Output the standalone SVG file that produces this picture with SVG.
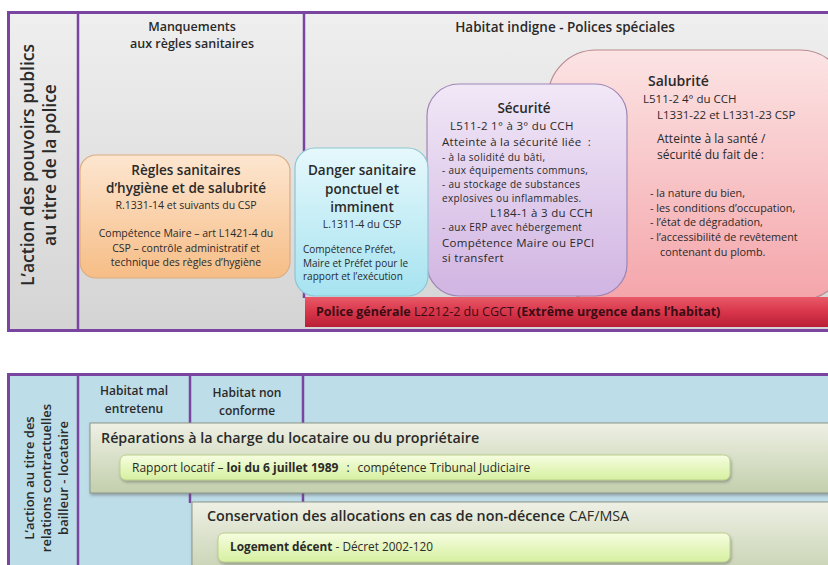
<svg xmlns="http://www.w3.org/2000/svg" width="828" height="565" viewBox="0 0 828 565">
  <defs>
    <linearGradient id="gGray" x1="0" y1="0" x2="0" y2="1">
      <stop offset="0" stop-color="#efefef"/>
      <stop offset="1" stop-color="#d4d4d4"/>
    </linearGradient>
    <linearGradient id="gOrange" x1="0" y1="0" x2="0" y2="1">
      <stop offset="0" stop-color="#fde6d0"/>
      <stop offset="1" stop-color="#f6bd86"/>
    </linearGradient>
    <linearGradient id="gCyan" x1="0" y1="0" x2="0" y2="1">
      <stop offset="0" stop-color="#e6f8fc"/>
      <stop offset="1" stop-color="#a6e3f0"/>
    </linearGradient>
    <linearGradient id="gPurple" x1="0" y1="0" x2="0" y2="1">
      <stop offset="0" stop-color="#f1e8f7"/>
      <stop offset="1" stop-color="#d1b4e2"/>
    </linearGradient>
    <linearGradient id="gPink" x1="0" y1="0" x2="0" y2="1">
      <stop offset="0" stop-color="#fce4e4"/>
      <stop offset="1" stop-color="#f4a5aa"/>
    </linearGradient>
    <linearGradient id="gRed" x1="0" y1="0" x2="0" y2="1">
      <stop offset="0" stop-color="#e85a68"/>
      <stop offset="0.5" stop-color="#d8354a"/>
      <stop offset="1" stop-color="#b82036"/>
    </linearGradient>
    <linearGradient id="gOlive" x1="0" y1="0" x2="0" y2="1">
      <stop offset="0" stop-color="#eef0e4"/>
      <stop offset="1" stop-color="#c3cfad"/>
    </linearGradient>
    <linearGradient id="gLime" x1="0" y1="0" x2="0" y2="1">
      <stop offset="0" stop-color="#f6fde0"/>
      <stop offset="1" stop-color="#d6f0a0"/>
    </linearGradient>
    <filter id="shadow" x="-5%" y="-20%" width="110%" height="150%">
      <feDropShadow dx="1" dy="2" stdDeviation="1.5" flood-color="#555" flood-opacity="0.45"/>
    </filter>
  </defs>
  <style>
    text { font-family: "Open Sans", "Noto Sans", "DejaVu Sans", sans-serif; fill: #2a2a2a; }
    .h { font-weight: 600; }
    .b { font-weight: 700; }
    .c { text-anchor: middle; }
    .w { letter-spacing: 0.3px; }
    .frame { stroke: #7a45a0; stroke-width: 3; }
    .div { stroke: #7a45a0; stroke-width: 2.5; fill: none; }
  </style>

  <!-- Upper panel: public police powers -->
  <g id="police-panel">
    <rect class="frame" x="8.5" y="12.5" width="830" height="318" fill="url(#gGray)"/>
    <line class="div" x1="78" y1="12" x2="78" y2="330"/>
    <line class="div" x1="304" y1="12" x2="304" y2="298"/>
    <text class="h c" font-size="17.5" transform="translate(34,165) rotate(-90)">L’action des pouvoirs publics</text>
    <text class="h c" font-size="17.5" transform="translate(56,165) rotate(-90)">au titre de la police</text>
    <text class="h c" font-size="12.5" x="192" y="31">Manquements</text>
    <text class="h c" font-size="12.5" x="192" y="48">aux règles sanitaires</text>
    <text class="h c" font-size="13.5" x="565" y="32">Habitat indigne - Polices spéciales</text>
  </g>

  <g id="salubrite">
    <rect x="548" y="50" width="300" height="250" rx="48" fill="url(#gPink)" stroke="#b88a8e" stroke-width="1.2"/>
    <text class="h" font-size="14" x="648" y="86">Salubrité</text>
    <text font-size="11.5" x="643" y="103">L511-2 4° du CCH</text>
    <text font-size="11.5" x="657" y="119">L1331-22 et L1331-23 CSP</text>
    <text font-size="12" x="657" y="143">Atteinte à la santé /</text>
    <text font-size="12" x="657" y="159">sécurité du fait de  :</text>
    <text font-size="10.8" x="650" y="197">-  la nature du bien,</text>
    <text font-size="10.8" x="650" y="211.5">-  les conditions d’occupation,</text>
    <text font-size="10.8" x="650" y="226">- l’état de dégradation,</text>
    <text font-size="10.8" x="650" y="241">- l’accessibilité de revêtement</text>
    <text font-size="10.8" x="660" y="256">contenant du plomb.</text>
  </g>

  <g id="securite">
    <rect x="427" y="84" width="200" height="212" rx="32" fill="url(#gPurple)" stroke="#9f86b5" stroke-width="1.2"/>
    <text class="h c" font-size="13.5" x="524" y="113">Sécurité</text>
    <text class="w" font-size="11.5" x="450" y="130">L511-2 1° à 3° du CCH</text>
    <text class="w" font-size="11.5" x="442" y="146">Atteinte à la sécurité liée <tspan dx="3">:</tspan></text>
    <text class="w" font-size="10" x="442" y="160.5">- à la solidité du bâti,</text>
    <text class="w" font-size="10" x="442" y="174.3">- aux équipements communs,</text>
    <text class="w" font-size="10" x="442" y="188">- au stockage de substances</text>
    <text class="w" font-size="10" x="442" y="201.8">explosives ou inflammables.</text>
    <text class="w" font-size="11.5" x="490" y="217.2">L184-1 à 3 du CCH</text>
    <text class="w" font-size="10" x="442" y="231.3">- aux ERP avec hébergement</text>
    <text class="w" font-size="11.5" x="442" y="246.6">Compétence Maire ou EPCI</text>
    <text class="w" font-size="11.5" x="442" y="262.4">si transfert</text>
  </g>

  <g id="danger-sanitaire">
    <rect x="295" y="148" width="133" height="148" rx="20" fill="url(#gCyan)" stroke="#8cc6d2" stroke-width="1.2"/>
    <text class="h c" font-size="13.5" x="362" y="175">Danger sanitaire</text>
    <text class="h c" font-size="13.5" x="362" y="193.5">ponctuel et</text>
    <text class="h c" font-size="13.5" x="362" y="212">imminent</text>
    <text class="c" font-size="10.5" x="362" y="227.5">L.1311-4 du CSP</text>
    <text font-size="10" x="303" y="253">Compétence Préfet,</text>
    <text font-size="10" x="303" y="266.5">Maire et Préfet pour le</text>
    <text font-size="10" x="303" y="280">rapport et l’exécution</text>
  </g>

  <g id="regles-sanitaires">
    <rect x="80" y="155" width="210" height="123" rx="16" fill="url(#gOrange)" stroke="#d9ad82" stroke-width="1.2"/>
    <text class="h c" font-size="13.5" x="186" y="174.5">Règles sanitaires</text>
    <text class="h c" font-size="13.5" x="186" y="193">d’hygiène et de salubrité</text>
    <text class="c" font-size="10.5" x="186" y="208.5">R.1331-14 et suivants du CSP</text>
    <text class="c" font-size="10.5" x="186" y="237">Compétence Maire – art L1421-4 du</text>
    <text class="c" font-size="10.5" x="186" y="251.5">CSP – contrôle administratif et</text>
    <text class="c" font-size="10.5" x="186" y="266">technique des règles d’hygiène</text>
  </g>

  <g id="police-generale">
    <rect x="305" y="297" width="530" height="30" fill="url(#gRed)"/>
    <text font-size="12.5" x="316" y="316" style="fill:#3a0d14"><tspan class="b">Police générale</tspan> L2212-2 du CGCT <tspan class="b">(Extrême urgence dans l’habitat)</tspan></text>
  </g>

  <!-- Lower panel: landlord / tenant contractual relations -->
  <g id="contract-panel">
    <rect class="frame" x="8.5" y="374.5" width="830" height="200" fill="#bddde8"/>
    <line class="div" x1="78" y1="374" x2="78" y2="565"/>
    <line class="div" x1="190" y1="374" x2="190" y2="503"/>
    <line class="div" x1="303" y1="374" x2="303" y2="503"/>
    <text class="h c" font-size="13" transform="translate(34,478) rotate(-90)">L’action au titre des</text>
    <text class="h c" font-size="13" transform="translate(51,478) rotate(-90)">relations contractuelles</text>
    <text class="h c" font-size="13" transform="translate(68,478) rotate(-90)">bailleur - locataire</text>
    <text class="h c" font-size="12" x="134" y="395">Habitat mal</text>
    <text class="h c" font-size="12" x="134" y="413">entretenu</text>
    <text class="h c" font-size="12" x="247" y="397">Habitat non</text>
    <text class="h c" font-size="12" x="247" y="415">conforme</text>
  </g>

  <g id="reparations">
    <rect x="90" y="423" width="750" height="70" fill="url(#gOlive)" stroke="#8b968a" stroke-width="1" filter="url(#shadow)"/>
    <text class="h" font-size="14.3" x="101" y="443">Réparations à la charge du locataire ou du propriétaire</text>
    <rect x="120" y="455" width="610" height="25" rx="6" fill="url(#gLime)" stroke="#bcd08e" stroke-width="1" filter="url(#shadow)"/>
    <text font-size="12" x="132" y="472">Rapport locatif – <tspan class="b">loi du 6 juillet 1989</tspan><tspan dx="8">:</tspan><tspan dx="8">compétence Tribunal Judiciaire</tspan></text>
  </g>

  <g id="allocations">
    <rect x="192" y="502" width="650" height="80" fill="url(#gOlive)" stroke="#8b968a" stroke-width="1" filter="url(#shadow)"/>
    <text font-size="14.3" x="207" y="521"><tspan class="h">Conservation des allocations en cas de non-décence</tspan> CAF/MSA</text>
    <rect x="218" y="533" width="512" height="29" rx="6" fill="url(#gLime)" stroke="#bcd08e" stroke-width="1" filter="url(#shadow)"/>
    <text font-size="11.8" x="230" y="551"><tspan class="b">Logement décent</tspan> - Décret 2002-120</text>
  </g>
</svg>
